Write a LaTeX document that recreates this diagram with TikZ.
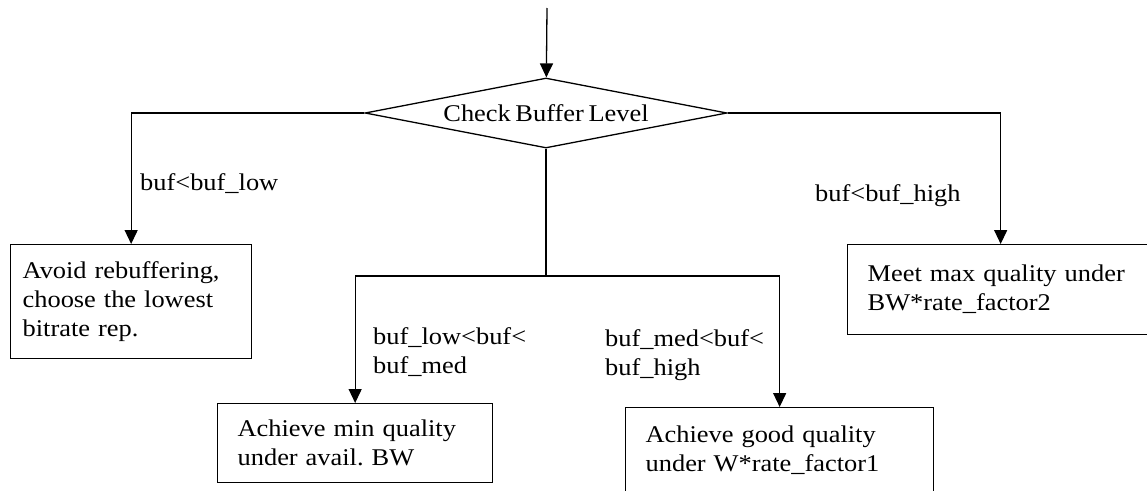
\documentclass[tikz,border=0pt]{standalone}
\usepackage{fontspec}
\setmainfont{Liberation Serif}[FakeStretch=1.1, WordSpace=0.7]
\frenchspacing
\usetikzlibrary{arrows.meta, positioning, shapes.geometric}

\begin{document}
\begin{tikzpicture}[
    x=1pt, y=-1pt,
    every node/.style={font=\fontsize{24}{29}\selectfont},
    decision/.style={draw, diamond, aspect=5.17, line width=1.3pt, minimum width=362pt, minimum height=70pt, inner sep=0pt},
    action/.style={draw, rectangle, line width=1.3pt, align=left, inner xsep=20pt, inner ysep=0pt, anchor=north west},
    cond/.style={align=left, inner sep=0pt, anchor=west},
    arrow/.style={-{Triangle[length=14pt, width=13pt]}, line width=1.3pt},
    link/.style={line width=1.3pt}
]
\useasboundingbox (0,0) rectangle (1147,490);
\clip (0,0) rectangle (1147,490);

% Nodes
\coordinate (entry) at (547,8);
\node[decision] (check) at (546,113) {Check Buffer Level};
\node[action, inner xsep=12pt, text width=217pt, minimum height=114pt] (lowest) at (10,244) {Avoid rebuffering,\\choose the lowest\\bitrate rep.};
\node[action, text width=235pt, minimum height=79pt] (minq) at (217,403) {Achieve min quality\\under avail. BW};
\node[action, text width=268pt, minimum height=86pt] (goodq) at (625,407) {Achieve good quality\\under W*rate\_factor1};
\node[action, text width=260pt, minimum height=90pt] (maxq) at (847,244) {Meet max quality under\\BW*rate\_factor2};
\coordinate (split) at (546,276);

% Conditions
\node[cond] (clow) at (140,184) {buf<buf\_low};
\node[cond] (cmed) at (373,352) {buf\_low<buf<\\buf\_med};
\node[cond] (chigh) at (605,355) {buf\_med<buf<\\buf\_high};
\node[cond] (cmax) at (815,196) {buf<buf\_high};

% Edges
\draw[arrow] (entry) -- (check);
\draw[arrow] (check.west) -| (lowest);
\draw[arrow] (check.east) -| ([xshift=3pt]maxq.north);
\draw[link] (check.south) -- (split);
\draw[arrow] (split) -| (minq);
\draw[arrow] (split) -| (goodq);

\end{tikzpicture}
\end{document}
